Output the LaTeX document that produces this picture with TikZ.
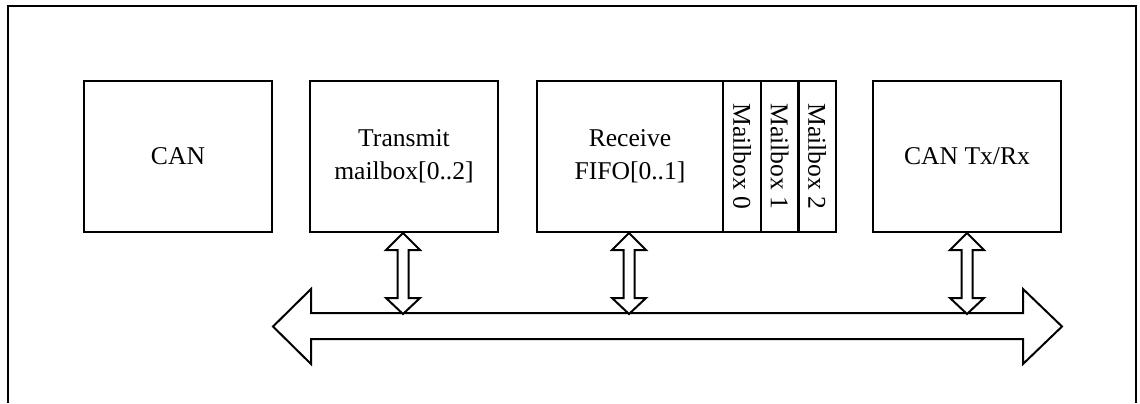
\documentclass[tikz,border=0pt]{standalone}
\usepackage{fontspec}
\setmainfont{Liberation Serif}
\usepackage{graphicx}
\begin{document}
\begin{tikzpicture}[x=0.5pt,y=-0.5pt,
  box/.style={draw, line width=1pt, minimum width=94pt, minimum height=75.5pt, inner sep=0pt, align=center, font=\fontsize{12.8pt}{16.5pt}\selectfont},
  mbox/.style={box, minimum width=19pt},
  blk/.style={draw, line width=1pt, fill=white, line join=miter}]
\useasboundingbox (0,0) rectangle (1140,403);
\draw[line width=1pt] (8,403) -- (8,6) -- (1136,6) -- (1136,403);
% blocks
\node[box] (can) at (178,156.5) {CAN};
\node[box] (tx) at (404,156.5) {Transmit\\mailbox[0..2]};
\node[box, minimum width=93pt] (rx) at (630,156.5) {Receive\\FIFO[0..1]};
\node[mbox] (mb0) at (742,156.5) {\rotatebox{-90}{Mailbox 0}};
\node[mbox] (mb1) at (779.5,156.5) {\rotatebox{-90}{Mailbox 1}};
\node[mbox] (mb2) at (817,156.5) {\rotatebox{-90}{Mailbox 2}};
\node[box] (trx) at (967,156.5) {CAN Tx/Rx};
% bus
\coordinate (busl) at (can.east |- 0,326.5);
\coordinate (busr) at (trx.east |- 0,326.5);
\draw[blk] (busl) -- ++(38,-37.5) -- ++(0,24) -- ([xshift=-19.5pt,yshift=6.75pt]busr) -- ++(0,-24) -- (busr) -- ++(-39,37.5) -- ++(0,-25) -- ([xshift=19pt,yshift=-6.25pt]busl) -- ++(0,25) -- cycle;
% vertical double arrows
\foreach \n/\dx in {tx/-1, rx/-1, trx/0}{
  \draw[blk] ([xshift=\dx*0.5pt]\n.south) -- ++(17,17) -- ++(-11.5,0) -- ++(0,48) -- ++(11.5,0) -- ++(-17,16) -- ++(-17,-16) -- ++(11.5,0) -- ++(0,-48) -- ++(-11.5,0) -- cycle;
}
\end{tikzpicture}
\end{document}
